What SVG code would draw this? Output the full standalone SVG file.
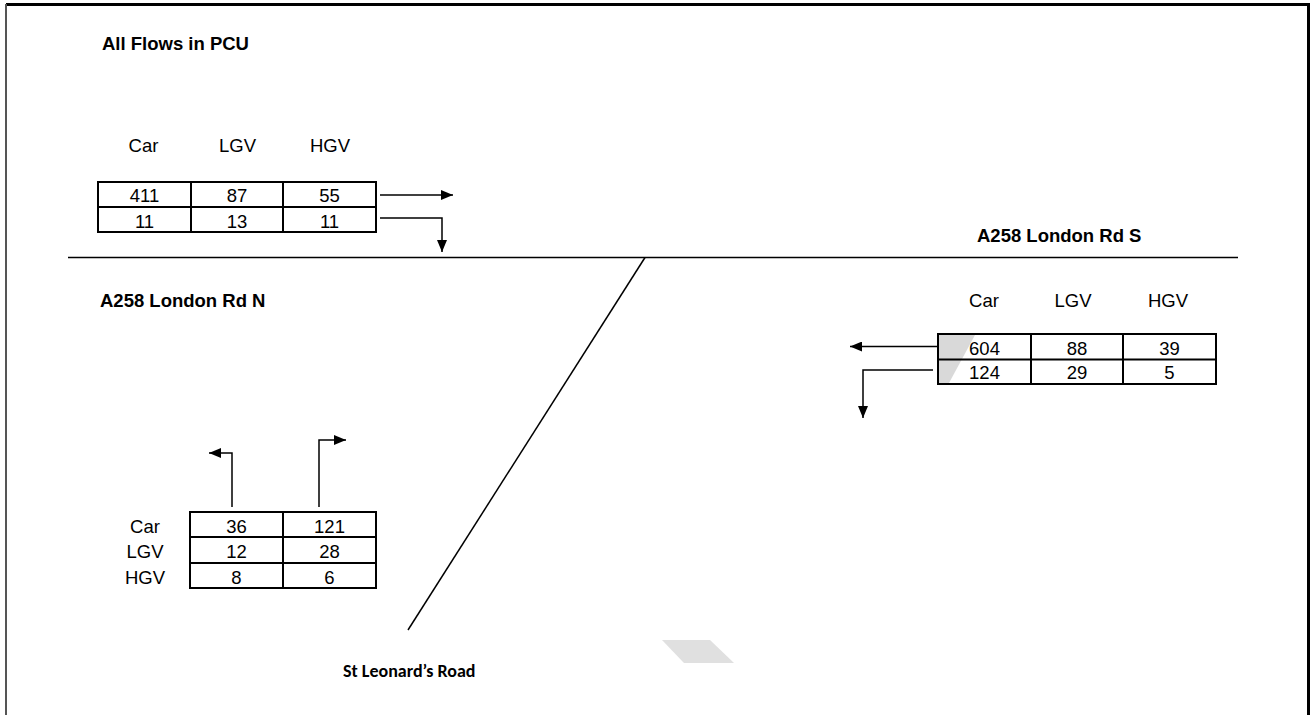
<svg xmlns="http://www.w3.org/2000/svg" width="1314" height="715" viewBox="0 0 1314 715">
<defs>
<style>
.t{font-family:"Liberation Sans",Arial,sans-serif;font-size:18.5px;fill:#000}
.c{text-anchor:middle}
.b{font-family:"Liberation Sans",Arial,sans-serif;font-size:18.5px;font-weight:bold;fill:#000}
.cal{font-family:Carlito,Lato,"Open Sans",sans-serif;font-size:18px;font-weight:bold;fill:#000}
.grid{stroke:#000;stroke-width:2;fill:none}
.road{stroke:#000;stroke-width:1.5;fill:none}
.arr{stroke:#000;stroke-width:1.5;fill:none;marker-end:url(#ah)}
</style>
<marker id="ah" viewBox="0 0 12 10" refX="12" refY="5" markerWidth="12" markerHeight="10" orient="auto" markerUnits="userSpaceOnUse"><path d="M0,0 L12,5 L0,10 z" fill="#000"/></marker>
</defs>
<rect width="1314" height="715" fill="#fff"/>
<g id="frame">
<line x1="6" y1="4.5" x2="1310" y2="4.5" stroke="#000" stroke-width="3"/>
<line x1="6" y1="4" x2="6" y2="715" stroke="#555" stroke-width="2"/>
<line x1="1308.5" y1="3" x2="1308.5" y2="715" stroke="#000" stroke-width="3"/>
</g>
<g id="roads">
<line class="road" x1="68" y1="257.5" x2="1238" y2="257.5"/>
<line class="road" x1="645" y1="257.5" x2="408" y2="630"/>
</g>
<g id="title"><text class="b" x="102" y="50">All Flows in PCU</text></g>
<g id="label-north"><text class="b" x="100" y="307">A258 London Rd N</text></g>
<g id="label-south"><text class="b" x="977" y="242">A258 London Rd S</text></g>
<g id="label-stleonards"><text class="cal" x="343" y="677">St Leonard’s Road</text></g>
<g id="table-north">
<text class="t c" x="143.5" y="152">Car</text>
<text class="t c" x="237.5" y="152">LGV</text>
<text class="t c" x="330" y="152">HGV</text>
<rect class="grid" x="98" y="182" width="278" height="50"/>
<line class="grid" x1="98" y1="207" x2="376" y2="207"/>
<line class="grid" x1="191" y1="182" x2="191" y2="232"/>
<line class="grid" x1="283" y1="182" x2="283" y2="232"/>
<text class="t c" x="144.5" y="202">411</text>
<text class="t c" x="237" y="202">87</text>
<text class="t c" x="329.5" y="202">55</text>
<text class="t c" x="144.5" y="228">11</text>
<text class="t c" x="237" y="228">13</text>
<text class="t c" x="329.5" y="228">11</text>
</g>
<g id="table-south">
<polygon points="939,335 975,335 949,383 939,383" fill="#d9d9d9"/>
<text class="t c" x="984" y="307">Car</text>
<text class="t c" x="1073" y="307">LGV</text>
<text class="t c" x="1168" y="307">HGV</text>
<rect class="grid" x="938" y="334" width="278" height="50"/>
<line class="grid" x1="938" y1="359.5" x2="1216" y2="359.5"/>
<line class="grid" x1="1031" y1="334" x2="1031" y2="384"/>
<line class="grid" x1="1123" y1="334" x2="1123" y2="384"/>
<text class="t c" x="984.5" y="355">604</text>
<text class="t c" x="1077" y="355">88</text>
<text class="t c" x="1169.5" y="355">39</text>
<text class="t c" x="984.5" y="379">124</text>
<text class="t c" x="1077" y="379">29</text>
<text class="t c" x="1169.5" y="379">5</text>
</g>
<g id="table-stleonards">
<text class="t c" x="145" y="533">Car</text>
<text class="t c" x="145" y="558">LGV</text>
<text class="t c" x="145" y="584">HGV</text>
<rect class="grid" x="190" y="512" width="186" height="76"/>
<line class="grid" x1="190" y1="537" x2="376" y2="537"/>
<line class="grid" x1="190" y1="563" x2="376" y2="563"/>
<line class="grid" x1="283" y1="512" x2="283" y2="588"/>
<text class="t c" x="236.5" y="533">36</text>
<text class="t c" x="329.5" y="533">121</text>
<text class="t c" x="236.5" y="558">12</text>
<text class="t c" x="329.5" y="558">28</text>
<text class="t c" x="236.5" y="584">8</text>
<text class="t c" x="329.5" y="584">6</text>
</g>
<g id="connectors">
<path class="arr" d="M380,195 H453"/>
<path class="arr" d="M380,218 H442 V252"/>
<path class="arr" d="M938,346.5 H850"/>
<path class="arr" d="M933,370 H863 V418"/>
<path class="arr" d="M232,507 V453 H209"/>
<path class="arr" d="M319,507 V440 H346"/>
</g>
<g id="mark"><polygon points="662,640 710,640 734,663 684,663" fill="#e0e0e0"/></g>
</svg>
